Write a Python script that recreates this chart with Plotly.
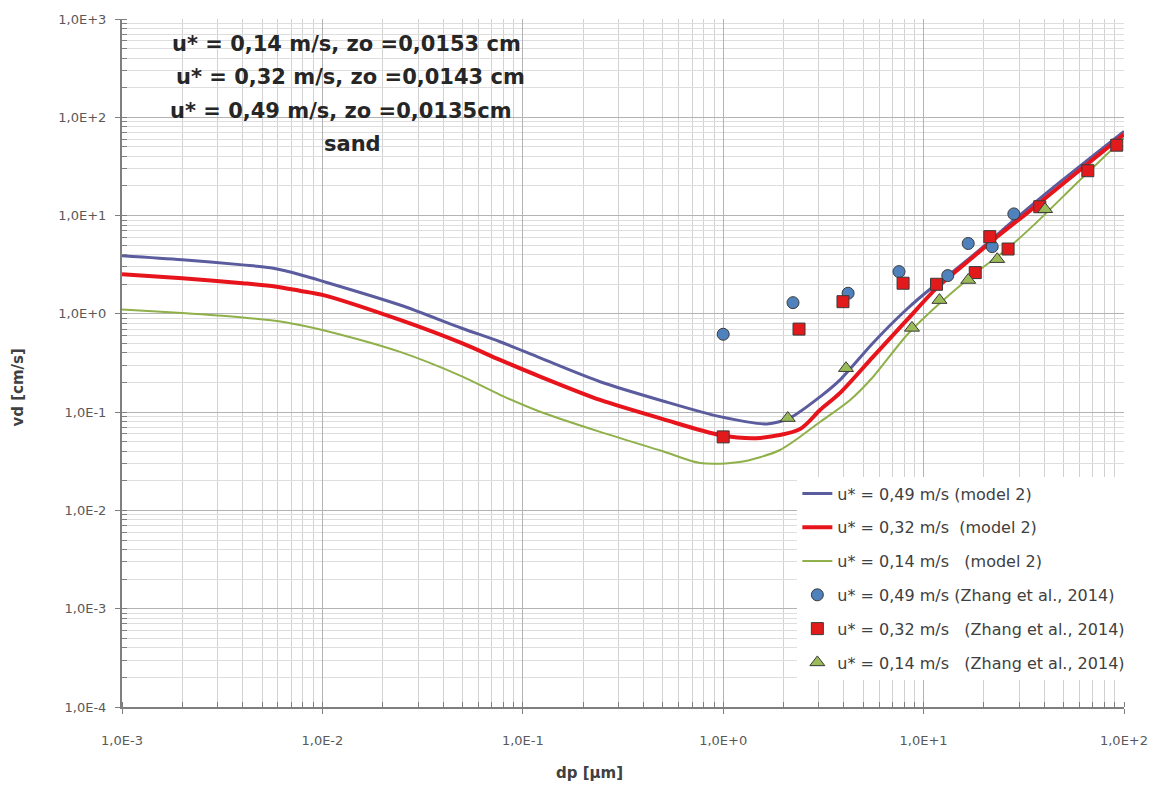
import plotly.graph_objects as go

# ---- model 2 curves ----
x_m49 = [0.001, 0.002, 0.004, 0.0055, 0.007, 0.01, 0.0244, 0.05, 0.077, 0.122, 0.243, 0.5, 0.964, 1.65, 2.15, 3.04, 3.83, 5.59, 8.26, 10.76, 13.55, 19.1, 29.2, 48.0, 100]
y_m49 = [3.9, 3.55, 3.15, 2.95, 2.65, 2.15, 1.23, 0.71, 0.52, 0.356, 0.204, 0.13, 0.09, 0.0759, 0.0873, 0.143, 0.213, 0.506, 1.12, 1.78, 2.55, 4.5, 9.5, 22.0, 72.0]

x_m32 = [0.001, 0.002, 0.004, 0.0058, 0.0077, 0.01, 0.0244, 0.05, 0.077, 0.122, 0.243, 0.5, 0.964, 1.53, 2.42, 3.04, 3.83, 5.59, 8.26, 11.67, 17.66, 23.2, 32.8, 53.8, 100]
y_m32 = [2.53, 2.3, 2.05, 1.9, 1.72, 1.56, 0.867, 0.5, 0.34, 0.23, 0.133, 0.085, 0.0586, 0.0547, 0.0675, 0.105, 0.157, 0.365, 0.867, 1.85, 3.79, 6.06, 10.6, 24.1, 67.0]

x_m14 = [0.001, 0.002, 0.004, 0.0058, 0.0077, 0.01, 0.0244, 0.05, 0.077, 0.122, 0.243, 0.5, 0.766, 1.21, 1.92, 3.04, 4.30, 5.59, 8.26, 12.08, 17.66, 26.1, 35.2, 60.3, 100]
y_m14 = [1.11, 1.02, 0.92, 0.85, 0.77, 0.685, 0.41, 0.23, 0.15, 0.101, 0.063, 0.04, 0.0304, 0.0311, 0.0412, 0.0794, 0.133, 0.228, 0.61, 1.29, 2.49, 4.57, 7.9, 23.0, 61.6]

# ---- Zhang et al., 2014 observations ----
x_z49 = [1.0, 2.23, 4.2, 7.54, 13.2, 16.7, 22.0, 28.2]
y_z49 = [0.62, 1.3, 1.62, 2.69, 2.45, 5.2, 4.83, 10.4]

x_z32 = [1.0, 2.39, 3.96, 7.9, 11.6, 18.1, 21.4, 26.4, 38.0, 66.0, 92.0]
y_z32 = [0.056, 0.70, 1.33, 2.05, 2.0, 2.63, 6.1, 4.57, 12.3, 28.6, 52.0]

x_z14 = [2.1, 4.1, 8.75, 12.0, 16.7, 23.3, 40.4]
y_z14 = [0.087, 0.28, 0.72, 1.38, 2.21, 3.6, 11.6]

x_tickvals = [1e-3, 1e-2, 1e-1, 1e0, 1e1, 1e2]
x_ticktext = ["1,0E-3", "1,0E-2", "1,0E-1", "1,0E+0", "1,0E+1", "1,0E+2"]
y_tickvals = [1e-4, 1e-3, 1e-2, 1e-1, 1e0, 1e1, 1e2, 1e3]
y_ticktext = ["1,0E-4", "1,0E-3", "1,0E-2", "1,0E-1", "1,0E+0", "1,0E+1", "1,0E+2", "1,0E+3"]

box_lines = ["u* = 0,14 m/s, zo =0,0153 cm", "u* = 0,32 m/s, zo =0,0143 cm",
             "u* = 0,49 m/s, zo =0,0135cm", "sand"]
box_x = [0.2236, 0.2285, 0.2186, 0.2305]
box_y = [0.9637, 0.9157, 0.8663, 0.8183]

FONT = "DejaVu Sans"
fig = go.Figure()

fig.add_trace(go.Scatter(x=x_m49, y=y_m49, mode="lines",
                         line=dict(color="#5B5C9E", width=3, shape="spline", smoothing=0.8),
                         name="u* = 0,49 m/s (model 2)", legendgroup="a"))
fig.add_trace(go.Scatter(x=x_m32, y=y_m32, mode="lines",
                         line=dict(color="#E8141C", width=4, shape="spline", smoothing=0.8),
                         name="u* = 0,32 m/s  (model 2)", legendgroup="b"))
fig.add_trace(go.Scatter(x=x_m14, y=y_m14, mode="lines",
                         line=dict(color="#8FB04A", width=2, shape="spline", smoothing=0.8),
                         name="u* = 0,14 m/s   (model 2)", legendgroup="c"))
fig.add_trace(go.Scatter(x=x_z49, y=y_z49, mode="markers",
                         marker=dict(symbol="circle", size=12, color="#4F81BD", line=dict(color="#3A3A3A", width=1)),
                         name="u* = 0,49 m/s (Zhang et al., 2014)", legendgroup="d"))
fig.add_trace(go.Scatter(x=x_z32, y=y_z32, mode="markers",
                         marker=dict(symbol="square", size=12, color="#E31A1C", line=dict(color="#3A3A3A", width=1)),
                         name="u* = 0,32 m/s   (Zhang et al., 2014)", legendgroup="e"))
fig.add_trace(go.Scatter(x=x_z14, y=y_z14, mode="markers",
                         marker=dict(symbol="triangle-up", size=13, color="#9BBB59", line=dict(color="#3A3A3A", width=1)),
                         name="u* = 0,14 m/s   (Zhang et al., 2014)", legendgroup="f"))

axis_common = dict(
    showline=True, linecolor="#7F7F7F", linewidth=2,
    ticks="outside", ticklen=5, tickcolor="#7F7F7F", tickwidth=1,
    showgrid=True, gridcolor="#B3B3B3", gridwidth=1,
    tickfont=dict(family=FONT, size=13, color="#595959"),
    zeroline=False, mirror=False, automargin=False,
)

fig.update_xaxes(type="log", range=[-3, 2], tickvals=x_tickvals, ticktext=x_ticktext,
                 ticklabelstandoff=15,
                 minor=dict(ticks="inside", ticklen=5, tickcolor="#7F7F7F", showgrid=True, gridcolor="#D2D2D2", dtick="D1"),
                 **axis_common)
fig.update_yaxes(type="log", range=[-4, 3], tickvals=y_tickvals, ticktext=y_ticktext,
                 ticklabelstandoff=6,
                 minor=dict(ticks="inside", ticklen=5, tickcolor="#7F7F7F", showgrid=True, gridcolor="#DEDEDE", dtick="D1"),
                 **axis_common)

# axis titles
fig.add_annotation(text="<b>dp [µm]</b>", xref="paper", yref="paper", x=0.467, y=-0.096,
                   showarrow=False, xanchor="center", yanchor="middle",
                   font=dict(family=FONT, size=15, color="#404040"))
fig.add_annotation(text="<b>vd [cm/s]</b>", xref="paper", yref="paper", x=-0.104, y=0.464,
                   showarrow=False, xanchor="center", yanchor="middle", textangle=-90,
                   font=dict(family=FONT, size=15, color="#404040"))

# white text box
fig.add_shape(type="rect", xref="paper", yref="paper", x0=0.048, x1=0.407, y0=0.79, y1=0.996,
              fillcolor="white", line=dict(width=0), layer="between")
for txt, xx, yy in zip(box_lines, box_x, box_y):
    fig.add_annotation(text="<b>" + txt + "</b>", xref="paper", yref="paper", x=xx, y=yy,
                       showarrow=False, xanchor="center", yanchor="middle",
                       font=dict(family=FONT, size=21, color="#262626"))

fig.update_layout(
    width=1154, height=779,
    margin=dict(l=114, r=38, t=11, b=80, autoexpand=False),
    paper_bgcolor="white", plot_bgcolor="white",
    showlegend=True,
    legend=dict(x=0.674, y=0.335, xanchor="left", yanchor="top", bgcolor="white",
                font=dict(family=FONT, size=16, color="#404040"), tracegroupgap=10,
                itemwidth=30),
)

fig.write_html("out.html")
